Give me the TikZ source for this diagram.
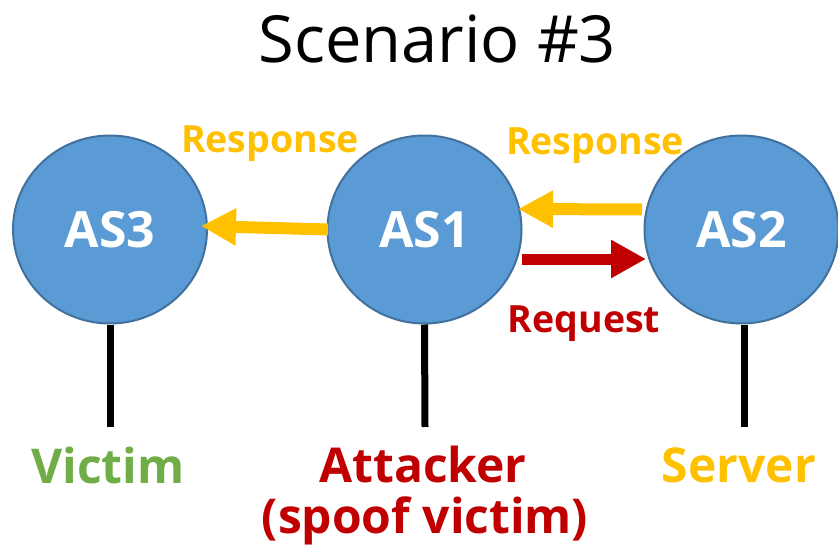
\documentclass[tikz,border=0pt]{standalone}
\usepackage{fontspec}
\setmainfont{Open Sans}
\usetikzlibrary{shapes.geometric,arrows.meta,calc}

\definecolor{asfill}{HTML}{5B9BD5}
\definecolor{asline}{HTML}{41719C}
\definecolor{respcol}{HTML}{FFC000}
\definecolor{reqcol}{HTML}{C00000}
\definecolor{victcol}{HTML}{70AD47}

\tikzset{
  asnode/.style={ellipse, draw=asline, line width=2pt, fill=asfill,
    minimum width=194pt, minimum height=188pt, inner sep=0pt,
    text=white, font=\bfseries\fontsize{50}{50}\selectfont},
  wire/.style={line width=7pt, black},
  resparrow/.style={draw=respcol, line width=12pt,
    -{Triangle[width=35pt,length=35pt]}},
  reqarrow/.style={draw=reqcol, line width=11pt,
    -{Triangle[width=36pt,length=35pt]}},
  rolelabel/.style={anchor=base, font=\bfseries\fontsize{48}{52}\selectfont},
  msglabel/.style={anchor=base, font=\bfseries\fontsize{37.5}{38}\selectfont},
}

\begin{document}
\begin{tikzpicture}[x=1pt, y=-1pt]
  \useasboundingbox (0,0) rectangle (838,551);

  % title
  \node[anchor=base, font=\fontsize{65}{65}\selectfont] (title) at (437.5,63) {Scenario \#3};

  % autonomous systems
  \node[asnode] (as3) at (110,229.5) {AS3};
  \node[asnode] (as1) at (424.5,229.5) {AS1};
  \node[asnode] (as2) at (741.5,229.5) {AS2};

  % hosts hanging below each AS
  \coordinate (h3) at (110,427);
  \coordinate (h1) at (425,427);
  \coordinate (h2) at (744,427);
  \draw[wire] (as3.south) -- (h3);
  \draw[wire] (as1.south) -- (h1);
  \draw[wire] ([xshift=2.5pt]as2.south) -- (h2);

  % host roles
  \node[rolelabel, text=victcol] (victim) at (108,483) {Victim};
  \node[rolelabel, text=reqcol] (attacker) at (423,482) {Attacker};
  \node[rolelabel, text=reqcol] (spoof) at (425,533) {(spoof victim)};
  \node[rolelabel, text=respcol] (server) at (739,482) {Server};

  % traffic between the systems
  \coordinate (r1tail) at ($(as1.center)+(-96.5,0)$);
  \coordinate (r1tip) at ($(as3.center)+(91,-3.5)$);
  \coordinate (r2tail) at ($(as2.center)+(-99.5,-20)$);
  \coordinate (r2tip) at ($(as1.center)+(93.5,-20.5)$);
  \coordinate (qtail) at ($(as1.center)+(97.5,29.5)$);
  \coordinate (qtip) at ($(as2.center)+(-95.5,29.5)$);
  \draw[resparrow] (r1tail) -- (r1tip);
  \draw[resparrow] (r2tail) -- (r2tip);
  \draw[reqarrow] (qtail) -- (qtip);

  % message labels
  \node[msglabel, text=respcol] (resp1) at (270,152) {Response};
  \node[msglabel, text=respcol] (resp2) at (595,154) {Response};
  \node[msglabel, text=reqcol] (req) at (584,332) {Request};
\end{tikzpicture}
\end{document}
